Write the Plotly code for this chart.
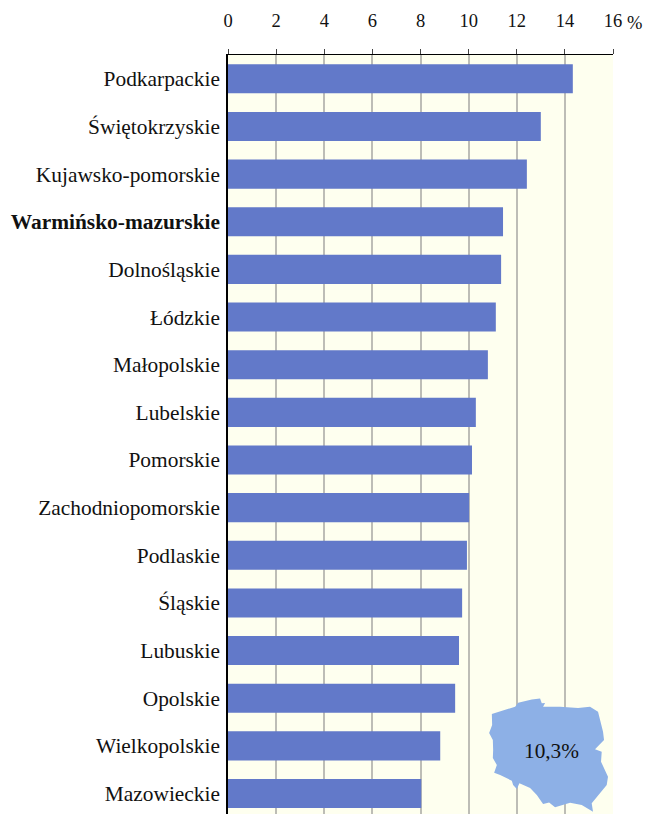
"""
Unemployment by voivodeship: horizontal bars with an inset map of Poland
"""

import plotly.graph_objects as go

regions = [
    "Podkarpackie", "Świętokrzyskie", "Kujawsko-pomorskie",
    "<b>Warmińsko-mazurskie</b>", "Dolnośląskie", "Łódzkie", "Małopolskie",
    "Lubelskie", "Pomorskie", "Zachodniopomorskie", "Podlaskie", "Śląskie",
    "Lubuskie", "Opolskie", "Wielkopolskie", "Mazowieckie",
]
values = [14.33, 13.0, 12.42, 11.43, 11.35, 11.13, 10.8, 10.3,
          10.14, 10.02, 9.93, 9.73, 9.6, 9.44, 8.82, 8.03]

tick_values = [0, 2, 4, 6, 8, 10, 12, 14, 16]

# outline of the country, in picture pixels
map_x = [491.7, 515, 518, 531.7, 540, 541.7, 545, 543, 560, 578, 590, 598, 603, 604,
         595, 601.7, 601, 608, 606.7, 591.7, 593, 581.7, 570, 555, 549, 543, 536.7,
         530, 519.3, 516.7, 513, 511.7, 500, 494, 496.7, 492.7, 493, 492.7, 489, 492]
map_y = [714, 706.7, 702.7, 699.3, 698.3, 703.3, 703, 706.7, 706.7, 708, 706.7, 711.7,
         731.7, 740, 749.3, 751.7, 761.7, 776.7, 785, 803.3, 811.7, 805, 802.7, 807.3,
         802.5, 804, 795, 788, 783.3, 789, 785, 780.7, 775, 772.7, 765, 758, 750, 740,
         733, 725]

WIDTH, HEIGHT = 645, 814
LEFT, RIGHT, TOP = 227.5, 613, 54.5
SERIF = "Liberation Serif, Times New Roman, serif"


def map_path():
    """SVG path for the map, converted from pixels to paper coordinates"""
    points = []
    for px, py in zip(map_x, map_y):
        xp = (px - LEFT) / (RIGHT - LEFT)
        yp = (HEIGHT - py) / (HEIGHT - TOP)
        points.append(f"{xp:.4f},{yp:.4f}")
    return "M" + " L".join(points) + " Z"


fig = go.Figure(go.Bar(
    x=values,
    y=regions,
    orientation="h",
    width=0.61,
    marker=dict(color="#6279C9", line=dict(width=0)),
    hovertemplate="%{y}: %{x:.1f}%<extra></extra>",
))

fig.update_layout(
    width=WIDTH,
    height=HEIGHT,
    margin=dict(l=LEFT, r=WIDTH - RIGHT, t=TOP, b=0, autoexpand=False),
    paper_bgcolor="white",
    plot_bgcolor="#FEFFEF",
    font=dict(family=SERIF, color="#111111"),
    showlegend=False,
    bargap=0.39,
    xaxis=dict(
        side="top",
        range=[0, 16],
        tickvals=tick_values,
        ticktext=[str(v) for v in tick_values],
        tickfont=dict(size=18.5),
        ticks="outside",
        ticklen=5,
        tickwidth=1,
        tickcolor="#444444",
        ticklabelstandoff=15,
        showgrid=True,
        gridcolor="#BDBDB6",
        gridwidth=1.5,
        showline=True,
        linecolor="black",
        linewidth=1,
        zeroline=False,
    ),
    yaxis=dict(
        type="category",
        categoryorder="array",
        categoryarray=regions,
        range=[15.43, -0.5],
        tickfont=dict(size=21.4),
        ticks="",
        ticklabelstandoff=2,
        showgrid=False,
        showline=True,
        linecolor="black",
        linewidth=1.5,
        zeroline=False,
    ),
    shapes=[dict(
        type="path",
        xref="paper",
        yref="paper",
        path=map_path(),
        fillcolor="#8DB0E6",
        line=dict(width=0),
        layer="above",
    )],
    annotations=[
        dict(
            text="10,3%", xref="paper", yref="paper",
            x=(551.5 - LEFT) / (RIGHT - LEFT), y=(HEIGHT - 751) / (HEIGHT - TOP),
            xanchor="center", yanchor="middle",
            showarrow=False, font=dict(size=21.3, family=SERIF, color="#111111"),
        ),
        dict(
            text="%", xref="paper", yref="paper",
            x=(625.5 - LEFT) / (RIGHT - LEFT), y=(HEIGHT - 22) / (HEIGHT - TOP),
            xanchor="left", yanchor="middle", showarrow=False,
            font=dict(size=18.5, family=SERIF, color="#111111"),
        ),
    ],
)

fig.write_html(
    "out.html",
    config=dict(displayModeBar=False),
    post_script="document.body.style.margin='0';",
)
